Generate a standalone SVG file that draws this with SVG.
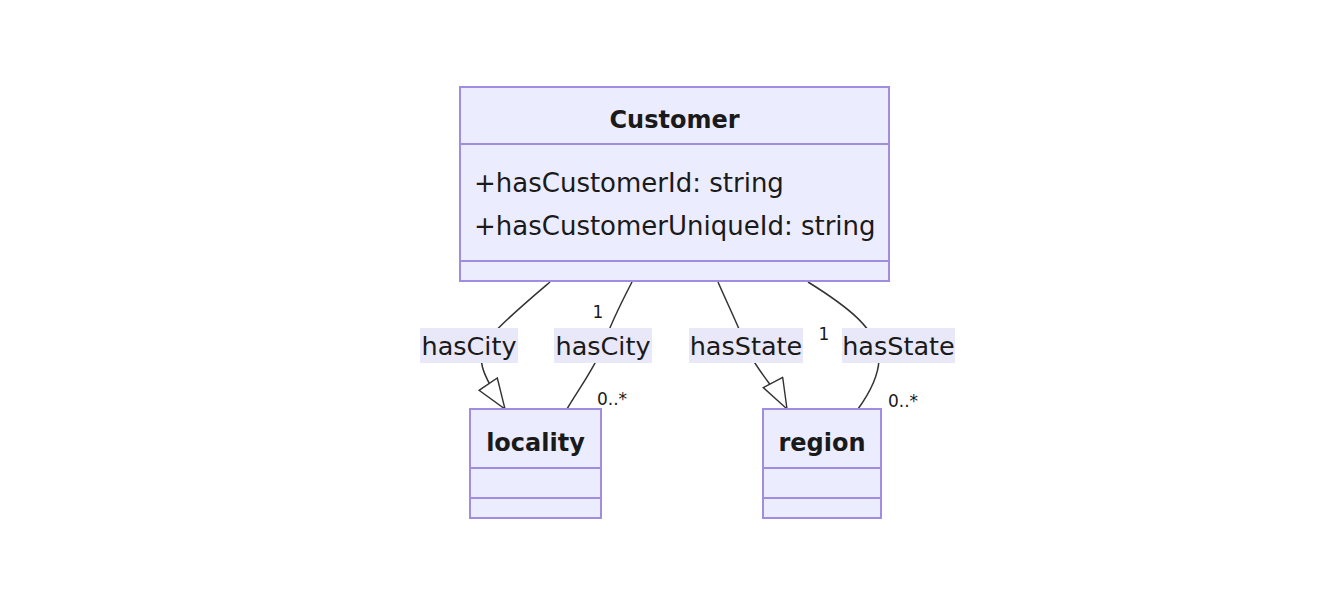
<svg xmlns="http://www.w3.org/2000/svg" width="1343" height="600" viewBox="0 0 1343 600">
<style>
.box{fill:#ECECFF;stroke:#A08CE0;stroke-width:2}
.div{stroke:#A08CE0;stroke-width:2}
.title{font-family:"DejaVu Sans",sans-serif;font-weight:bold;font-size:24px;fill:#1a1a1a;text-anchor:middle}
.attr{font-family:"DejaVu Sans",sans-serif;font-size:26px;fill:#1a1a1a}
.edge{fill:none;stroke:#333;stroke-width:1.5}
.lbg{fill:#E8E8F8}
.lbl{font-family:"DejaVu Sans",sans-serif;font-size:25.5px;fill:#1a1a1a;text-anchor:middle}
.card{font-family:"DejaVu Sans",sans-serif;font-size:17px;fill:#1a1a1a}
</style>
<defs>
<marker id="ext" markerUnits="userSpaceOnUse" markerWidth="34" markerHeight="28" refX="31" refY="12" orient="auto" viewBox="0 0 34 28">
<path d="M1,1 L31,12 L1,23 Z" fill="#fff" stroke="#333" stroke-width="1.4"/>
</marker>
</defs>
<rect width="1343" height="600" fill="#fff"/>
<g id="connectors">
<path class="edge" d="M550,282 C530,299 505,320 492,335 C472,355 482,375 505,409" marker-end="url(#ext)"/>
<path class="edge" d="M632,282 C620,305 610,325 603,346 C596,366 578,390 567,409"/>
<path class="edge" d="M718,282 C728,305 738,325 746,346 C752,365 778,392 787,409" marker-end="url(#ext)"/>
<path class="edge" d="M808,282 C845,305 880,330 879,360 C878,380 866,398 858,409"/>
<rect class="lbg" x="420" y="328" width="98" height="35"/>
<text class="lbl" x="469" y="355">hasCity</text>
<rect class="lbg" x="554" y="328" width="98" height="35"/>
<text class="lbl" x="603" y="355">hasCity</text>
<rect class="lbg" x="689" y="328" width="114" height="35"/>
<text class="lbl" x="746" y="355">hasState</text>
<rect class="lbg" x="842" y="328" width="113" height="35"/>
<text class="lbl" x="898.5" y="355">hasState</text>
<text class="card" x="598" y="318" text-anchor="middle">1</text>
<text class="card" x="597" y="405">0..*</text>
<text class="card" x="824" y="340" text-anchor="middle">1</text>
<text class="card" x="888" y="407">0..*</text>
</g>
<g id="Customer">
<rect class="box" x="460" y="87" width="429" height="194"/>
<line class="div" x1="460" y1="144" x2="889" y2="144"/>
<line class="div" x1="460" y1="261" x2="889" y2="261"/>
<text class="title" x="674.5" y="128">Customer</text>
<text class="attr" x="474" y="192">+hasCustomerId: string</text>
<text class="attr" x="474" y="235">+hasCustomerUniqueId: string</text>
</g>
<g id="locality">
<rect class="box" x="470" y="409" width="131" height="109"/>
<line class="div" x1="470" y1="468" x2="601" y2="468"/>
<line class="div" x1="470" y1="498" x2="601" y2="498"/>
<text class="title" x="535.5" y="451">locality</text>
</g>
<g id="region">
<rect class="box" x="763" y="409" width="118" height="109"/>
<line class="div" x1="763" y1="468" x2="881" y2="468"/>
<line class="div" x1="763" y1="498" x2="881" y2="498"/>
<text class="title" x="822" y="451">region</text>
</g>
</svg>
